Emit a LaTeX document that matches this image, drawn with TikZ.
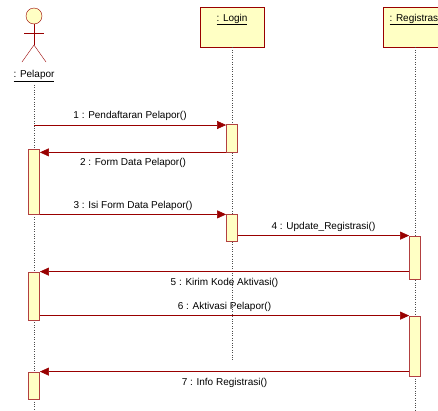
\documentclass[tikz,border=0pt]{standalone}
\usepackage{fontspec}
\setmainfont{Liberation Sans}
\usepackage{tikz}
\usetikzlibrary{shapes,arrows,arrows.meta}
\usetikzlibrary{positioning}
\definecolor{umlred}{RGB}{153,0,0}
\definecolor{umlfill}{RGB}{255,255,196}
\tikzstyle{msg} = [umlred, semithick, -{Triangle[length=9pt,width=8pt]}]
\tikzstyle{lifeline} = [black!70, dotted]
\tikzstyle{obj} = [rectangle, draw=umlred, fill=umlfill, thick,
    minimum width=64pt, minimum height=40pt]
\tikzstyle{act} = [rectangle, draw=umlred!75, fill=umlfill, thick,
    minimum width=11pt, inner sep=0pt]
\tikzstyle{lbl} = [font=\fontsize{10}{12}\selectfont, text=black, inner sep=3pt]

\begin{document}
\begin{tikzpicture}[x=1pt,y=-1pt]
\useasboundingbox (0,0) rectangle (438,410);
\clip (0,0) rectangle (438,410);

% actor
\node (head) [circle, draw=umlred, fill=umlfill, minimum size=16pt, inner sep=0pt] at (34,16) {};
\coordinate (hip) at (34,45);
\draw [umlred] (head.south) -- (hip);
\draw [umlred] (24,33) -- (44,33);
\draw [umlred] (22,62) -- (hip) -- (46,62);
\node (pelapor) [lbl] at (34,76) {\underline{: Pelapor}};

% objects
\node (login) [obj] at (232,27) {};
\node (loginlbl) [lbl, below=4pt of login.north] {\underline{: Login}};
\node (registrasi) [obj] at (415,27) {};
\node (registrasilbl) [lbl, below=4pt of registrasi.north] {\underline{: Registrasi}};

% lifelines
\coordinate (pelaporend) at (34,410);
\coordinate (loginend) at (232,361);
\coordinate (registrasiend) at (415,410);
\draw [lifeline] (pelapor.south) -- (pelaporend);
\draw [lifeline] (login.south) -- (loginend);
\draw [lifeline] (registrasi.south) -- (registrasiend);

% activations
\node (login1) [act, minimum height=28pt] at (232,138) {};
\node (pelapor1) [act, minimum height=65pt] at (34,181.5) {};
\node (login2) [act, minimum height=27pt] at (232,227.5) {};
\node (reg1) [act, minimum height=43pt] at (415,257.5) {};
\node (pelapor2) [act, minimum height=48pt] at (34,296) {};
\node (reg2) [act, minimum height=60pt] at (415,346) {};
\node (pelapor3) [act, minimum height=27pt] at (34,385.5) {};

% messages
\coordinate (m1) at (34,125);
\draw [msg] (m1) -- (m1 -| login1.west)
    node [lbl, midway, above=1pt] {1 : Pendaftaran Pelapor()};
\draw [msg] (login1.south west) -- (login1.south west -| pelapor1.east)
    node [lbl, midway, below=3pt] {2 : Form Data Pelapor()};
\draw [msg] (pelapor1.south east) -- (pelapor1.south east -| login2.west)
    node [lbl, midway, above=1pt] {3 : Isi Form Data Pelapor()};
\draw [msg] (login2.east |- reg1.north) -- (reg1.north west)
    node [lbl, midway, above=1pt] {4 : Update\_Registrasi()};
\draw [msg] (pelapor2.north east -| reg1.west) -- (pelapor2.north east)
    node [lbl, midway, below=3pt] {5 : Kirim Kode Aktivasi()};
\draw [msg] (pelapor2.east |- reg2.north) -- (reg2.north west)
    node [lbl, midway, above=1pt] {6 : Aktivasi Pelapor()};
\draw [msg] (pelapor3.north east -| reg2.west) -- (pelapor3.north east)
    node [lbl, midway, below=3pt] {7 : Info Registrasi()};
\end{tikzpicture}
\end{document}
